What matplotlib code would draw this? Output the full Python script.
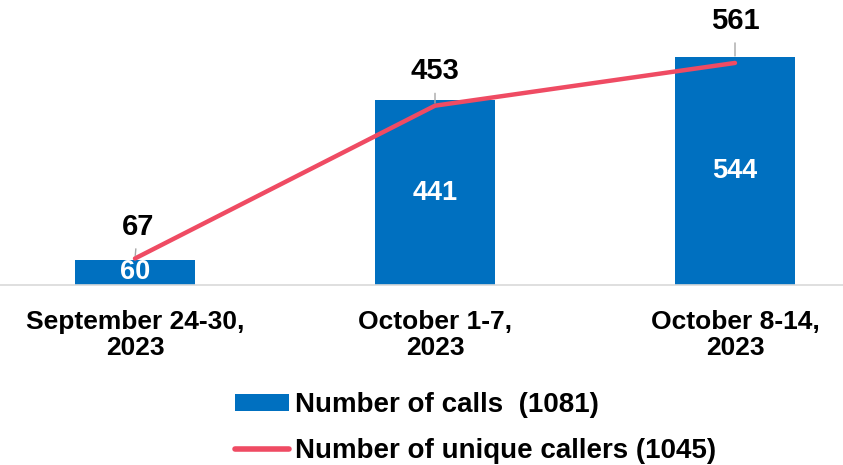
import matplotlib
matplotlib.use("Agg")
import matplotlib.pyplot as plt
from matplotlib.patches import Patch
from matplotlib.lines import Line2D

categories = ["September 24-30,\n2023", "October 1-7,\n2023", "October 8-14,\n2023"]
calls = [60, 441, 544]
unique_callers = [67, 453, 561]
legend_labels = ["Number of calls  (1081)", "Number of unique callers (1045)"]

BLUE = "#0070C0"
RED = "#EF4B63"
plt.rcParams["font.family"] = ["Liberation Sans", "DejaVu Sans"]
plt.rcParams["font.weight"] = "bold"

fig = plt.figure(figsize=(8.43, 4.65), dpi=100)
ax = fig.add_axes([0, 1 - 285 / 465, 1, 285 / 465])
x = list(range(len(categories)))
ax.bar(x, calls, width=0.4, color=BLUE, zorder=2)
ax.set_xlim(-0.45, 2.36)
ax.set_ylim(0, 680)
for s in ["top", "right", "left"]:
    ax.spines[s].set_visible(False)
ax.spines["bottom"].set_color("#D9D9D9")
ax.spines["bottom"].set_linewidth(1.2)
ax.set_yticks([])
ax.set_xticks(x)
ax.set_xticklabels(categories, fontsize=19, fontweight="bold", linespacing=1.1)
ax.tick_params(axis="x", length=0, pad=18)
for xi, v in zip(x, calls):
    ax.text(xi, v / 2, str(v), ha="center", va="center", color="white",
            fontsize=19.5, fontweight="bold", zorder=5)

ax2 = ax.twinx()
ax2.set_ylim(0, 720)
ax2.axis("off")
ax2.plot(x, unique_callers, color=RED, lw=3.2, solid_capstyle="round", zorder=3)
offsets = [(2, 23), (0, 25), (0, 30.5)]
shrinkb = [2, 2, 5]
for xi, v, off, sb in zip(x, unique_callers, offsets, shrinkb):
    ax2.annotate(str(v), xy=(xi, v), xytext=off, textcoords="offset points",
                 ha="center", va="center", fontsize=21, fontweight="bold",
                 arrowprops=dict(arrowstyle="-", color="#A6A6A6", lw=1,
                                 shrinkA=4, shrinkB=sb))

handles = [Patch(facecolor=BLUE, edgecolor="none"),
           Line2D([0], [0], color=RED, lw=4, solid_capstyle="round")]
fig.legend(handles, legend_labels, loc="upper left", bbox_to_anchor=(235 / 843, 1 - 392 / 465),
           frameon=False, prop=dict(size=20, weight="bold"), handlelength=1.95,
           handleheight=0.55, handletextpad=0.2, labelspacing=0.73, borderpad=0, borderaxespad=0)

fig.savefig("out.png", dpi=100)
